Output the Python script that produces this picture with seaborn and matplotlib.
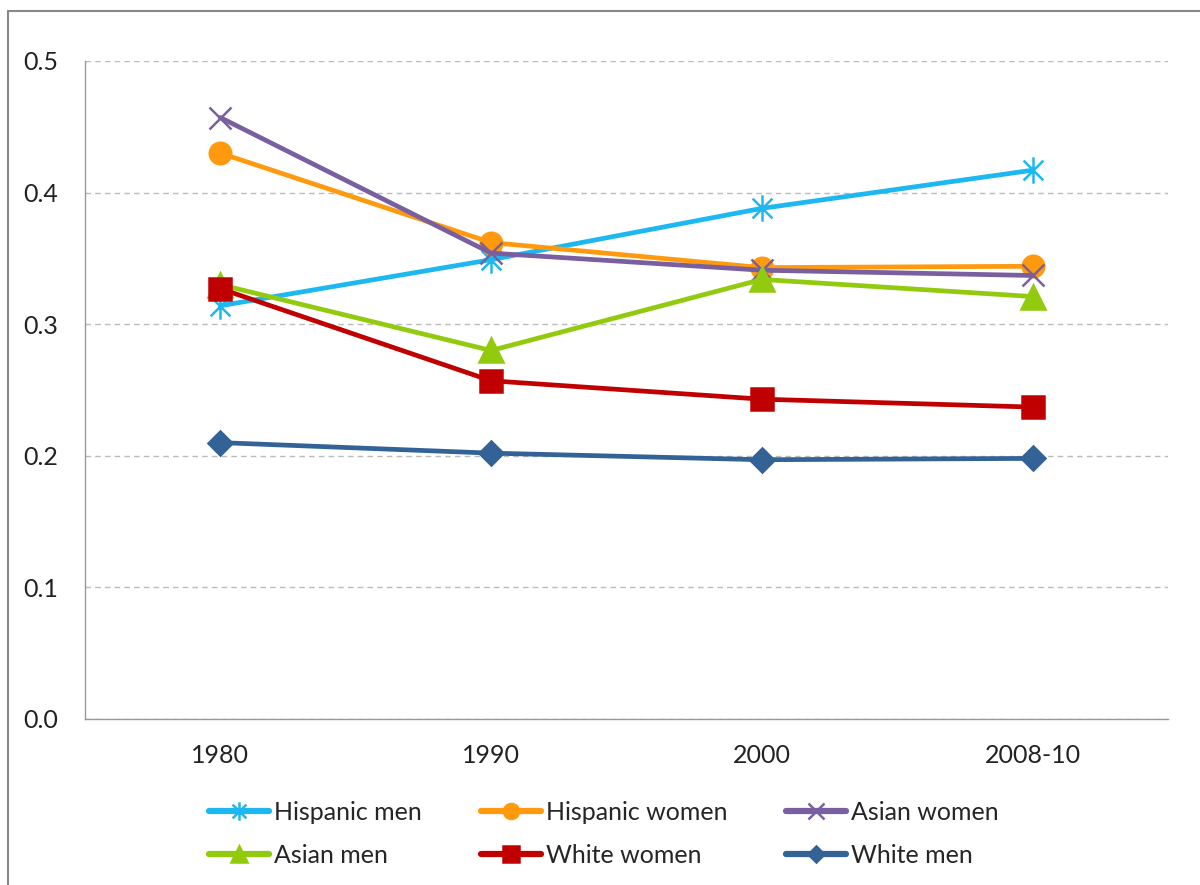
import pandas as pd
import matplotlib
matplotlib.use("Agg")
import matplotlib.pyplot as plt
from matplotlib.lines import Line2D
from matplotlib.path import Path
import seaborn as sns

periods = ["1980", "1990", "2000", "2008-10"]
series = ["Hispanic men", "Hispanic women", "Asian women",
          "Asian men", "White women", "White men"]

hispanic_men = [0.314, 0.349, 0.388, 0.417]
hispanic_women = [0.430, 0.362, 0.343, 0.344]
asian_women = [0.457, 0.354, 0.341, 0.337]
asian_men = [0.330, 0.280, 0.334, 0.321]
white_women = [0.327, 0.257, 0.243, 0.237]
white_men = [0.210, 0.202, 0.197, 0.198]

# Excel-style asterisk: an X plus a vertical stroke
star = Path([(0, -1), (0, 1), (-0.75, -0.75), (0.75, 0.75), (-0.75, 0.75), (0.75, -0.75)],
            [Path.MOVETO, Path.LINETO] * 3)

colors = ["#1DB8F0", "#FF9A0F", "#7A5FA0", "#92CA0E", "#C00000", "#336296"]
markers = [star, "o", "x", "^", "s", "D"]
msizes = [19, 15.5, 16, 17, 16, 12]

values = [hispanic_men, hispanic_women, asian_women, asian_men, white_women, white_men]
rows = []
for name, vals in zip(series, values):
    for i, v in enumerate(vals):
        rows.append({"group": name, "pos": i, "value": v})
df = pd.DataFrame(rows)

sns.set_style("white")
plt.rcParams["font.family"] = ["Lato", "DejaVu Sans"]

fig = plt.figure(figsize=(12, 8.85), dpi=100)
ax = fig.add_axes([0.0708, 0.1876, 0.9025, 0.7435])

# one call per series, since filled and line-art markers can't be mixed
for name, c, m, ms in zip(series, colors, markers, msizes):
    sns.lineplot(data=df[df["group"] == name], x="pos", y="value",
                 color=c, marker=m, markersize=ms, markeredgecolor=c,
                 markerfacecolor=c, markeredgewidth=1.8,
                 linewidth=3.4, label=name, legend=False, ax=ax)

ax.set_xlim(-0.5, 3.5)
ax.set_ylim(0, 0.5)
ax.set_yticks([0, 0.1, 0.2, 0.3, 0.4, 0.5])
ax.set_yticklabels(["0.0", "0.1", "0.2", "0.3", "0.4", "0.5"])
ax.set_xticks(range(len(periods)))
ax.set_xticklabels(periods)
ax.set_xticks([-0.5, 0.5, 1.5, 2.5, 3.5], minor=True)
ax.tick_params(axis="x", which="major", length=0, pad=18, labelsize=18, colors="#222222")
ax.tick_params(axis="x", which="minor", length=10, width=1, color="#999999", direction="out")
ax.tick_params(axis="y", length=7, width=1, direction="out",
               labelsize=18, colors="#222222", pad=12)
ax.tick_params(axis="y", color="#999999")
ax.set_xlabel("")
ax.set_ylabel("")

ax.grid(axis="y", linestyle=(0, (4, 3)), color="#BBBBBB", linewidth=1)
ax.set_axisbelow(True)
for side in ["top", "right"]:
    ax.spines[side].set_visible(False)
for side in ["left", "bottom"]:
    ax.spines[side].set_color("#999999")
    ax.spines[side].set_linewidth(1)

order = [0, 3, 1, 4, 2, 5]
handles = [ax.lines[i] for i in order]
labels = [series[i] for i in order]
leg = ax.legend(handles, labels, ncol=3, loc="center", bbox_to_anchor=(0.479, -0.175),
                frameon=False, fontsize=18, handlelength=2.4, handletextpad=0.2,
                columnspacing=2.35, labelspacing=0.8, markerscale=0.7)
for h in leg.legend_handles:
    h.set_linewidth(4.5)

# outer chart frame: only top and left edges show in the original
fig.add_artist(Line2D([8 / 1200, 1], [1 - 11 / 885, 1 - 11 / 885],
                      transform=fig.transFigure, color="#888888", linewidth=1.5))
fig.add_artist(Line2D([8 / 1200, 8 / 1200], [0, 1 - 11 / 885],
                      transform=fig.transFigure, color="#888888", linewidth=1.5))

fig.savefig("out.png", dpi=100)
